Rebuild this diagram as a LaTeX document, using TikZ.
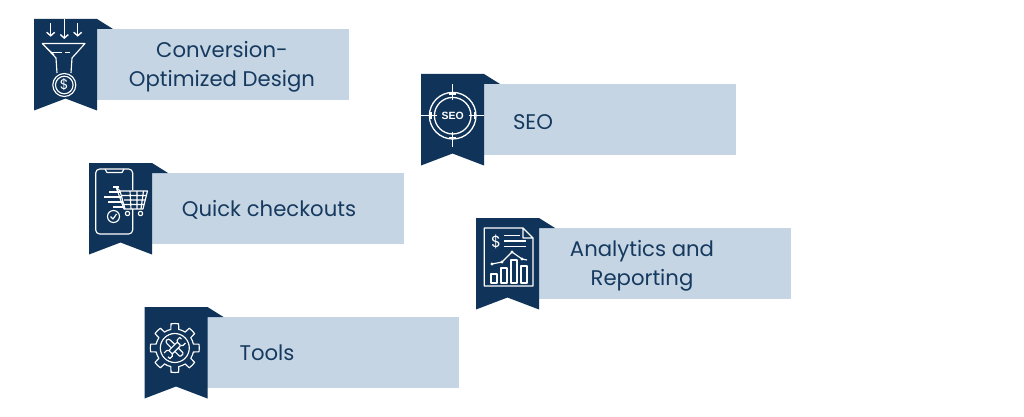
\documentclass[tikz,border=0pt]{standalone}
\usepackage{fontspec}
\setmainfont{Poppins}
\newfontfamily\seofont{Liberation Sans}
\usetikzlibrary{arrows.meta}
\definecolor{navy}{HTML}{0F3359}
\definecolor{paleblue}{HTML}{C5D5E4}
\definecolor{inktext}{HTML}{163A5F}
\begin{document}
\begin{tikzpicture}
    [x=1pt, y=-1pt,
    band/.style={fill=paleblue, minimum width=252pt, minimum height=70.5pt, inner sep=0pt, anchor=north west},
    caption/.style={text=inktext, font=\fontsize{21.2}{29.5}\selectfont, align=center},
    icon/.style={draw=white, line width=1.15pt, line join=round},
    pics/ribbon/.style={code={
        \fill[navy] (0,0) -- (63,0) -- (79,10) -- (63,10) -- (63,91.5) -- (31.5,79.5) -- (0,91.5) -- cycle;
    }},
    pics/funnel/.style={code={
        \foreach \ax/\ay in {16.7/4.5, 30.3/0, 43.7/4.5}
            \draw[icon, line width=1.4pt, -{Straight Barb[length=3.5pt,width=8pt]}] (\ax,\ay) -- (\ax,{\ay==0 ? 20 : 17.7});
        \draw[icon] (20,36) -- (8.3,24.5) -- (51,24.5) -- (38,39) -- (37,54) (23,54) -- (22,39) -- (8.3,24.5);
        \draw[icon] (18,33.5) -- (27.5,33.5) (31,33.5) -- (36,33.5);
        \draw[icon] (30.3,66) circle (11.5) circle (8.8);
        \node[text=white, font=\fontsize{14}{14}\selectfont, inner sep=0pt] (dollar) at (30.3,66) {\$};
    }},
    pics/phone/.style={code={
        \draw[icon, rounded corners=4pt] (43.7,27) -- (43.7,6) -- (6.7,6) -- (6.7,71) -- (43.7,71) -- (43.7,46);
        \draw[icon] (16,6) -- (18,9.5) -- (33,9.5) -- (35,6);
        \draw[icon] (24,24) -- (30,24) (20,29) -- (31,29) (15,34) -- (32,34) (19,39) -- (34,39) (24,44) -- (35,44);
        \draw[icon] (27,24) -- (31,28) -- (58.5,28) -- (54,46) -- (35,46) -- cycle;
        \draw[icon] (31,28) -- (36,46) (35,37) -- (56,37) (33,32.5) -- (57.5,32.5) (34,41.5) -- (55,41.5)
                    (41,28) -- (42,46) (48,28) -- (48,46) (54.5,28) -- (52,46);
        \draw[icon] (38.5,50.5) circle (2.2) (51.5,50.5) circle (2.2);
        \draw[icon] (24.5,53.5) circle (6) (21.5,53.5) -- (24,56) -- (27.5,51);
    }},
    pics/gear/.style={code={
        \begin{scope}[shift={(30.3,41)}]
            \draw[icon] \foreach \ang in {0,45,...,315} {
                ({\ang-23}:19) arc[start angle=\ang-23, end angle=\ang-12, radius=19] -- ({\ang-9}:24.5)
                arc[start angle=\ang-9, end angle=\ang+9, radius=24.5] -- ({\ang+12}:19)
                arc[start angle=\ang+12, end angle=\ang+22, radius=19]
            };
            \draw[icon] (0,0) circle (14.5);
            \begin{scope}[rotate=45]
                \draw[icon, rounded corners=1pt] (-2.4,-9) -- (-2.4,10) -- (2.4,10) -- (2.4,-9);
                \draw[icon] (-2.4,-9) arc[start angle=180, end angle=360, radius=2.4];
            \end{scope}
            \begin{scope}[rotate=-45]
                \draw[fill=navy, icon, rounded corners=1pt] (-2.4,-6) -- (-2.4,6) -- (2.4,6) -- (2.4,-6) -- cycle;
                \draw[icon] (-4,-11) -- (-4,-7.5) -- (-2.4,-6) (4,-11) -- (4,-7.5) -- (2.4,-6)
                            (-4,11) -- (-4,7.5) -- (-2.4,6) (4,11) -- (4,7.5) -- (2.4,6)
                            (-4,-11) -- (-1.5,-11) (4,11) -- (1.5,11);
            \end{scope}
        \end{scope}
    }},
    pics/target/.style={code={
        \draw[icon, line width=1.3pt] (31.7,41.7) circle (23.3) circle (18.3);
        \draw[icon, line width=1.3pt] (0,41.7) -- (16,41.7) (47.5,41.7) -- (63,41.7)
                    (31.7,10) -- (31.7,26) (31.7,57.5) -- (31.7,72.7);
        \draw[icon, line width=1.3pt] (28,20) -- (35.4,20) (28,63.4) -- (35.4,63.4)
                    (10,38) -- (10,45.4) (53.4,38) -- (53.4,45.4);
        \node[text=white, font=\seofont\bfseries\fontsize{10.5}{10.5}\selectfont, inner sep=0pt] (seomark) at (31.7,41.7) {SEO};
    }},
    pics/report/.style={code={
        \draw[icon, line width=1.3pt] (47,10) -- (8.3,10) -- (8.3,68) -- (57,68) -- (57,20) -- (47,10) -- (47,20) -- (57,20);
        \node[text=white, font=\fontsize{16}{16}\selectfont, inner sep=0pt] (usd) at (20,23.5) {\$};
        \draw[icon] (28,17.5) -- (44,17.5) (28,23) -- (50,23) (28,28.5) -- (50,28.5);
        \draw[icon] (16,46) -- (26,44) -- (36,34) -- (46,41) -- (51,42);
        \fill[white] (16,46) circle (1.7) (26,44) circle (1.7) (36,34) circle (1.7) (46,41) circle (1.7);
        \draw[icon] (15,65) rectangle (21,56) (25,65) rectangle (31,50) (35,65) rectangle (41,42) (45,65) rectangle (51,48);
    }}]
    \useasboundingbox (0,0) rectangle (1024,417);

    \node[band] (design) at (97,29) {};
    \node[band] (seo) at (484,84) {};
    \node[band] (checkout) at (152,173) {};
    \node[band] (analytics) at (539,228) {};
    \node[band] (tools) at (207,317) {};

    \pic at (34,19) {ribbon};
    \pic at (421,74) {ribbon};
    \pic at (89,163) {ribbon};
    \pic at (476,218) {ribbon};
    \pic at (144.5,307) {ribbon};

    \pic at (34,19) {funnel};
    \pic at (421,74) {target};
    \pic at (89,163) {phone};
    \pic at (476,218) {report};
    \pic at (144.5,307) {gear};

    \node[caption] (designtext) at (222,67) {Conversion-\\Optimized Design};
    \node[caption] (seotext) at (533,122) {SEO};
    \node[caption] (checkouttext) at (269,209.5) {Quick checkouts};
    \node[caption] (analyticstext) at (642,266) {Analytics and\\Reporting};
    \node[caption] (toolstext) at (267,352.5) {Tools};
\end{tikzpicture}
\end{document}
